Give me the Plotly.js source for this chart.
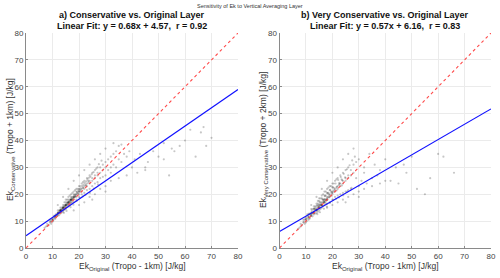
<!DOCTYPE html>
<html><head><meta charset="utf-8">
<script src="https://cdn.plot.ly/plotly-3.0.1.min.js"></script>
<style>body{margin:0;padding:0;background:#fff}#c{width:500px;height:278px}</style>
</head><body><div id="c"></div>
<script>
// Panel a) Conservative vs Original (x = Original, y = Conservative)
const aX = [7,7.5,8,8,8.5,9,9,9.5,9.5,10,10,10,10.5,10.5,11,11,11,11.5,11.5,12,12,12,12,12.5,12.5,12.5,13,13,13,13,13.5,13.5,13.5,14,14,14,14,14.5,14.5,14.5,14.5,15,15,15,15,15,15.5,15.5,15.5,15.5,16,16,16,16,16,16.5,16.5,16.5,16.5,17,17,17,17,17,17.5,17.5,17.5,17.5,18,18,18,18,18,18.5,18.5,18.5,19,19,19,19,19,19.5,19.5,20,20,20,20,20,20.5,20.5,21,21,21,21,21.5,21.5,22,22,22,22,22.5,23,23,23,23,23.5,24,24,24,24,25,25,25,25,26,26,26,26,27,27,27,27,28,28,28,29,29,29,30,30,30,31,31,32,32,32,33,33,34,34,35,35,36,37,36,38,39,40,41,42,43,45,45,46,48,50,52,52,54,55,56,58,60,62,64,66,67,68,70,18,20,22,24,26,28,30,32,35,38,30,25,12,14,16,18,20,22,24,26,28,30,33,13,14,15,16,17,12,13,14,15,16,17,18,11,12,13,14,15,16,17,18,19,20];
const aY = [7.5,8,8.2,9,8.5,9.5,10.5,9,10,10.5,11,9.8,11,12,11.5,12,10.8,12.5,11.8,12,13,12.5,14,13,12.2,14,13.5,14,12.8,15,14,15,13.2,14,15,16,13.5,15,16,17,14.2,15,16,17,18,14.5,16,17,18,15.2,16,17,18,19,15.5,17,18,19.5,16.2,17,18,19,20,16.5,18,19,20.5,17,18,19,20,21,17.2,19,20,21.5,19,20,21,22,18,20.5,22,20,21,22,23,19,21,23,21,22,24,20,22.5,24.5,22,23,25,20.5,23.5,23,24,26,21.5,25,24,25,27,22,25,26,28,23,26,27,29,24,27,28,30,24.5,28,30,26,29,31,26.5,30,32,27,29,33,30,34,28,31,35,30,36,33,38,32,35,38.5,34,36,30,33,28,35,30,29,32,36,34,33,39,27,37,36,38,40,44,34,43,45,38,41,14,16,17,19,20,22,23,25,26,27,21,18,16,19,22,25,27,29,31,33,35,37,39,14,15,16,17,18,13,14,15,16,17,18,19,12,13,14,15,16,17,18,19,20,21];
const aX2 = [9.2,9.8,10.3,10.8,11.2,11.7,12.2,12.7,13.2,13.7,14.2,14.7,15.2,15.7,16.2,16.7,17.2,17.7,18.2,18.7,19.2,19.7,20.2,20.7,21.2,21.7,22.2,22.7,23.2,23.7,24.3,24.8,25.5,26.5,27.5,28.5,13.1,14.1,15.1,16.1,17.1,18.1,12.1,11.1,10.1,14.6,15.6,16.6,13.6,12.6,17.6,18.6,19.6,20.6,21.6,22.6,23.6,19.1,20.3,21.4,22.5,24.1,25.6,27.2,16.8,15.3,14.3,17.9];
const aY2 = [9.8,10.6,10.2,11.6,12.4,12.1,13.4,13.6,13.9,14.6,15.4,15.6,16.4,16.7,17.4,17.8,18.6,18.4,19.6,19.4,20.8,21.3,21.8,22.2,23.1,23.6,24.2,24.8,25.5,26.1,26.5,27.4,28.2,29.5,31.2,32.5,14.3,14.8,15.7,16.6,17.6,18.7,12.8,11.3,10.4,15.3,16.3,17.3,14.3,13.2,18.2,19.3,20.2,21.5,22.3,23.2,24.4,17.5,18.6,19.2,19.8,20.5,22.1,23.6,15.2,13.8,13.1,16.1];
// Panel b) Very Conservative vs Original
const bX = [7,7.5,8,8,8.5,9,9,9.5,9.5,10,10,10,10.5,10.5,11,11,11,11.5,11.5,12,12,12,12,12.5,12.5,12.5,13,13,13,13,13.5,13.5,13.5,14,14,14,14,14.5,14.5,14.5,14.5,15,15,15,15,15,15.5,15.5,15.5,15.5,16,16,16,16,16,16.5,16.5,16.5,16.5,17,17,17,17,17,17.5,17.5,17.5,17.5,18,18,18,18,18,18.5,18.5,18.5,19,19,19,19,19,19.5,19.5,20,20,20,20,20,20.5,20.5,21,21,21,21,21.5,21.5,22,22,22,22,22.5,23,23,23,23,23.5,24,24,24,24,25,25,25,25,26,26,26,26,27,27,27,28,28,29,29,30,30,31,32,32,33,34,35,36,37,38,40,42,44,45,47,48,50,52,55,57,60,62,66,18,20,22,24,26,28,30,32,35,38,40,30,25,12,14,16,18,20,22,24,26,28,13,14,15,16,17,12,13,14,15,16,17,18,11,12,13,14,15,16,17,18,19,20];
const bY = [7,7.5,8,9,8.5,9.5,10.5,9,10.5,10.5,11.5,9.5,11,12.5,11.5,12.5,10.5,12.5,11,12,13,12.5,14.5,13,11.8,14.5,13.5,14.5,12.5,15.5,14,15.5,12.8,14,15.5,16.5,13,15,16.5,17.5,13.5,15,16,17.5,18.5,14,16,17,18.5,14.5,16,17,18.5,19.5,15,17,18,20,15.5,17,18,19.5,21,16,18,19.5,21,16.5,18,19,20.5,22,16.5,19,20.5,22.5,19,20,21.5,23,17,21,23,20,21,22.5,24,18,21,24,21,22,25,19,22.5,25.5,22,23,26,19.5,23.5,23,24,27,20,25.5,24,25,28,20.5,25,26,29,21,26,27,30,21.5,27,29,22,28,31,26,32,23,33,25,30,28,24,35,26,31,27,29,33,25,30,24,31,28,34,22,20,26,35,34,28,15,16,17,18,19,20,21,22,23,24,25,19,17,16,19,22,25,28,30,33,35,37,13,14,15,16,17,12,13,14,15,16,17,18,11.5,12.5,13.5,14.5,15.5,16.5,17.5,18.5,19.5,20.5];
const bX2 = [9.2,9.8,10.3,10.8,11.2,11.7,12.2,12.7,13.2,13.7,14.2,14.7,15.2,15.7,16.2,16.7,17.2,17.7,18.2,18.7,19.2,19.7,20.2,20.7,21.2,21.7,22.2,22.7,23.2,23.7,24.3,24.8,25.5,26.5,27.5,28.5,13.1,14.1,15.1,16.1,17.1,18.1,12.1,11.1,10.1,14.6,15.6,16.6,13.6,12.6,17.6,18.6,19.6,20.6,21.6,22.6,23.6,19.1,20.3,21.4,22.5,24.1,25.6,27.2,16.8,15.3,14.3,17.9];
const bY2 = [9.6,10.9,10.0,11.9,12.8,11.8,13.9,13.2,14.5,14.2,15.9,15.1,17.0,16.2,18.1,17.2,19.3,17.9,20.4,18.8,21.6,20.6,22.7,21.5,24.0,22.8,25.3,23.9,26.4,25.2,27.6,26.3,29.3,30.8,32.6,34.0,14.8,14.3,16.2,16.0,18.2,18.0,13.3,11.0,10.8,15.8,15.7,17.9,14.9,12.9,17.5,19.9,19.4,22.3,21.4,24.2,23.3,16.8,17.9,18.3,18.8,19.6,21.0,22.4,14.6,13.3,12.6,15.4];
// Linear fits [slope, intercept]
const fitA = [0.68, 4.57];
const fitB = [0.57, 6.16];
const lineEnds = [0, 80];
const ticks = [0,10,20,30,40,50,60,70,80];

const W=500,H=278;
const px = v=>v/W, py = v=>1-v/H;
const F = "Liberation Sans, Arial, sans-serif";

function fitTrace(f, xa, ya){
  return {x: lineEnds, y: lineEnds.map(v=>f[0]*v+f[1]), mode:'lines', line:{color:'#1010ff', width:1.2}, xaxis:xa, yaxis:ya, hoverinfo:'skip'};
}
function oneTrace(xa, ya){
  return {x: lineEnds, y: lineEnds, mode:'lines', line:{color:'#ff4a4a', width:1.1, dash:'dot'}, xaxis:xa, yaxis:ya, hoverinfo:'skip'};
}
function scat(x,y,xa,ya){
  return {x:x, y:y, mode:'markers', marker:{color:'#000', size:2.2, opacity:0.22, line:{width:0}}, xaxis:xa, yaxis:ya, hoverinfo:'skip'};
}
const data = [
  scat(aX,aY,'x','y'), scat(aX2,aY2,'x','y'), oneTrace('x','y'), fitTrace(fitA,'x','y'),
  scat(bX,bY,'x2','y2'), scat(bX2,bY2,'x2','y2'), oneTrace('x2','y2'), fitTrace(fitB,'x2','y2')
];
function ax(domain, anchor){
  return {domain:domain, anchor:anchor, range:[0,80], tickvals:ticks, ticktext:ticks.map(String),
    showgrid:true, gridcolor:'#ebebeb', gridwidth:1, zeroline:false, showline:true, linecolor:'#8a8a8a', linewidth:1,
    ticks:'inside', ticklen:2, tickcolor:'#8a8a8a', tickfont:{family:F,size:8,color:'#444'}, mirror:false, fixedrange:true};
}
const layout = {
  width:W, height:H, margin:{l:0,r:0,t:0,b:0}, paper_bgcolor:'#fff', plot_bgcolor:'#fff', showlegend:false,
  xaxis: ax([px(26),px(238)],'y'),
  yaxis: ax([1-248/H,1-33/H],'x'),
  xaxis2: ax([px(279.5),px(491)],'y2'),
  yaxis2: ax([1-248/H,1-33/H],'x2'),
  annotations:[
    {text:'Sensitivity of Ek to Vertical Averaging Layer', x:px(250), y:py(6), xref:'paper', yref:'paper', showarrow:false, font:{family:F,size:5.5,color:'#333'}, xanchor:'center', yanchor:'middle'},
    {text:'<b>a) Conservative vs. Original Layer</b>', x:px(132), y:py(15.5), xref:'paper', yref:'paper', showarrow:false, font:{family:F,size:9,color:'#111'}, xanchor:'center', yanchor:'middle'},
    {text:'<b>Linear Fit: y = 0.68x + 4.57,  r = 0.92</b>', x:px(132), y:py(26.5), xref:'paper', yref:'paper', showarrow:false, font:{family:F,size:9,color:'#111'}, xanchor:'center', yanchor:'middle'},
    {text:'<b>b) Very Conservative vs. Original Layer</b>', x:px(385), y:py(15.5), xref:'paper', yref:'paper', showarrow:false, font:{family:F,size:9,color:'#111'}, xanchor:'center', yanchor:'middle'},
    {text:'<b>Linear Fit: y = 0.57x + 6.16,  r = 0.83</b>', x:px(385), y:py(26.5), xref:'paper', yref:'paper', showarrow:false, font:{family:F,size:9,color:'#111'}, xanchor:'center', yanchor:'middle'},
    {text:'Ek<sub>Original</sub> (Tropo - 1km) [J/kg]', x:px(132), y:py(266), xref:'paper', yref:'paper', showarrow:false, font:{family:F,size:8.5,color:'#333'}, xanchor:'center', yanchor:'middle'},
    {text:'Ek<sub>Original</sub> (Tropo - 1km) [J/kg]', x:px(385), y:py(266), xref:'paper', yref:'paper', showarrow:false, font:{family:F,size:8.5,color:'#333'}, xanchor:'center', yanchor:'middle'},
    {text:'Ek<sub>Conservative</sub> (Tropo + 1km) [J/kg]', x:px(10), y:py(140), xref:'paper', yref:'paper', showarrow:false, textangle:-90, font:{family:F,size:8.5,color:'#333'}, xanchor:'center', yanchor:'middle'},
    {text:'Ek<sub>Very Conservative</sub> (Tropo + 2km) [J/kg]', x:px(263), y:py(140), xref:'paper', yref:'paper', showarrow:false, textangle:-90, font:{family:F,size:8.5,color:'#333'}, xanchor:'center', yanchor:'middle'}
  ]
};
Plotly.newPlot('c', data, layout, {staticPlot:true, displayModeBar:false});
</script></body></html>
